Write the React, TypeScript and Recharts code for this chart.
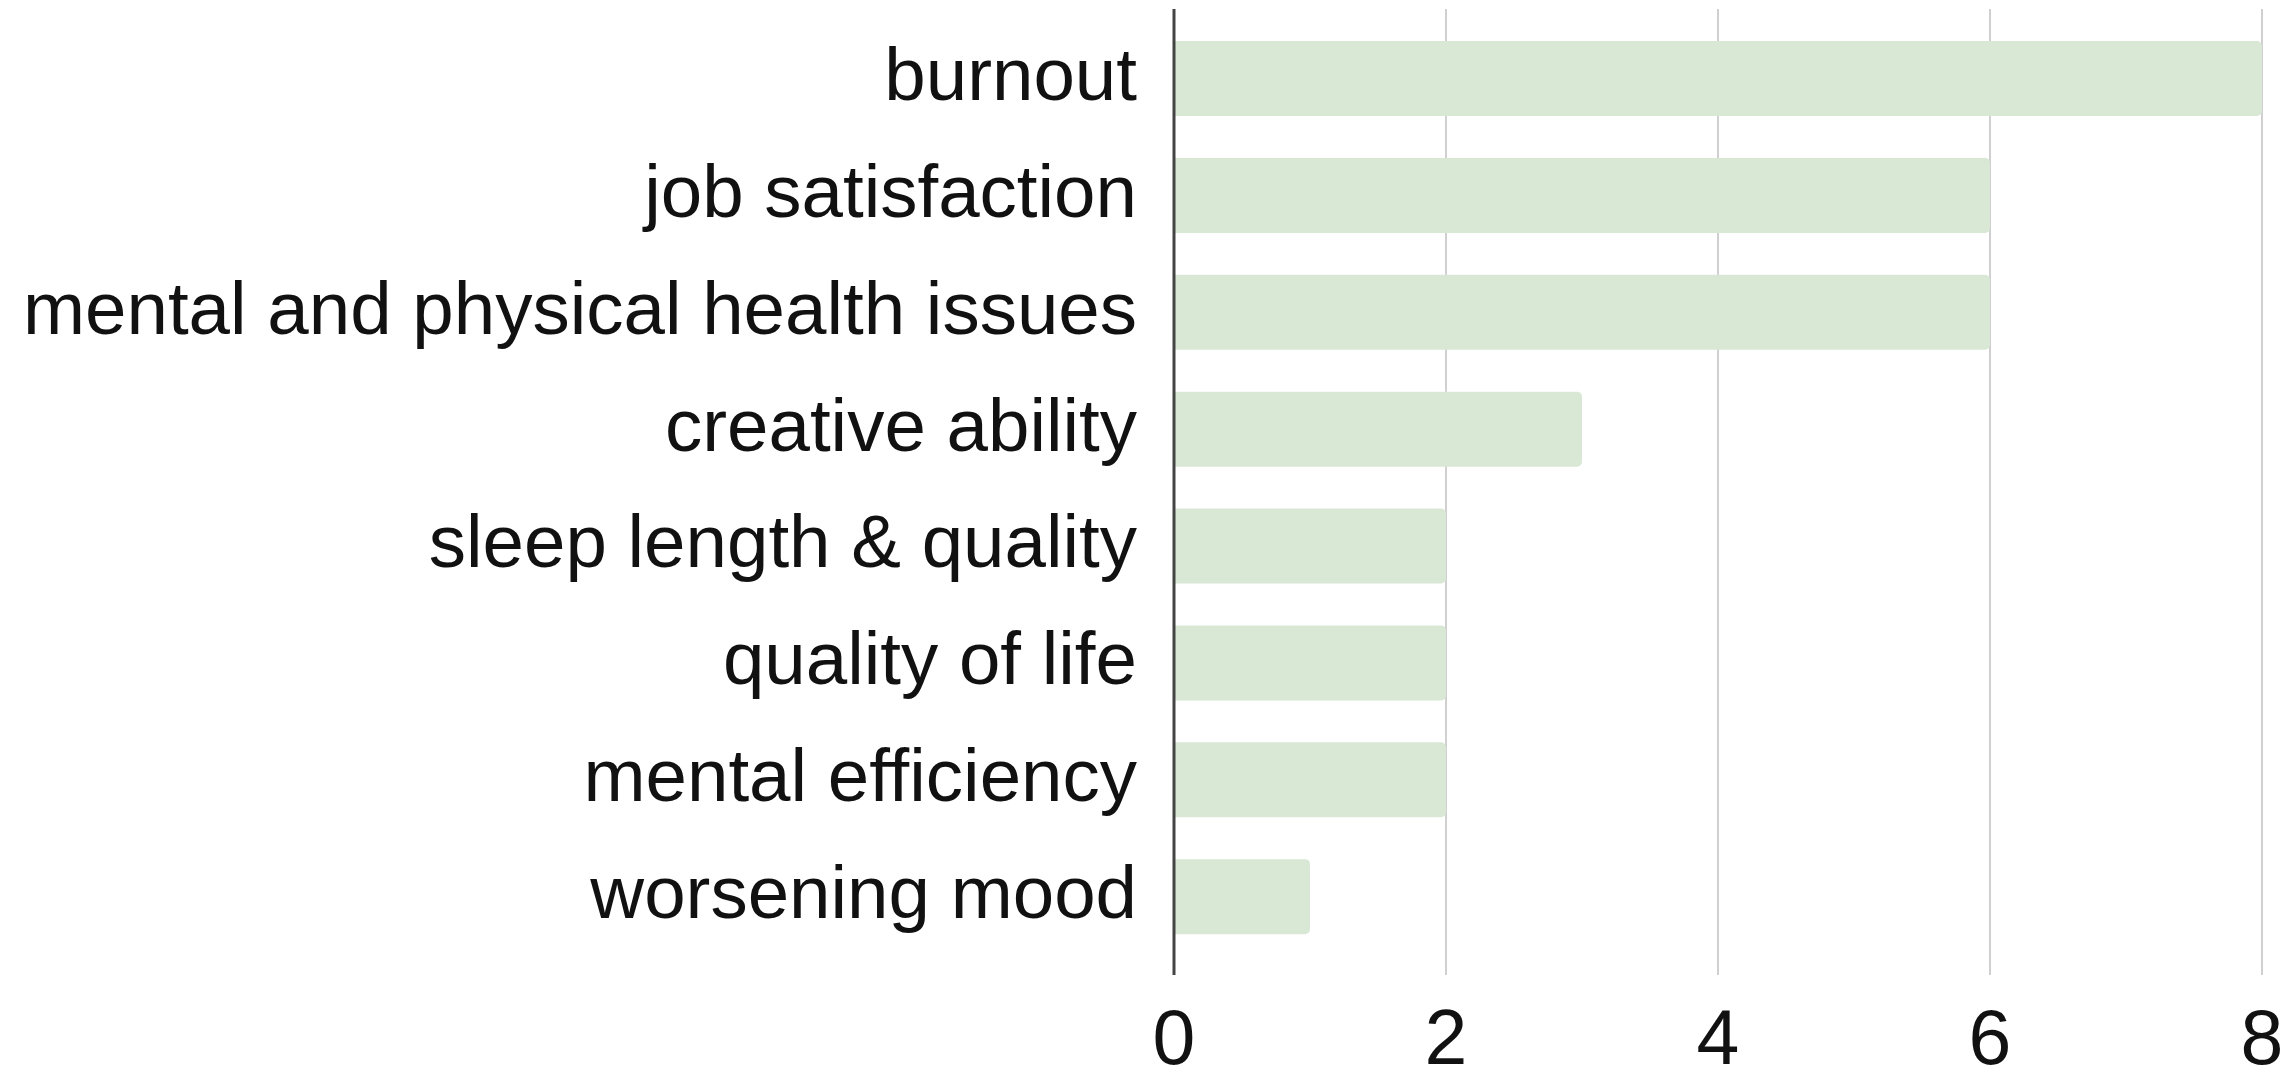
import React from "react";
import { BarChart, Bar, XAxis, YAxis, CartesianGrid } from "recharts";

const categories = [
  "burnout",
  "job satisfaction",
  "mental and physical health issues",
  "creative ability",
  "sleep length & quality",
  "quality of life",
  "mental efficiency",
  "worsening mood",
];
const counts = [8, 6, 6, 3, 2, 2, 2, 1];
const xTicks = [0, 2, 4, 6, 8];

const data = categories.map((name, i) => ({ name, count: counts[i] }));

export default function App() {
  return (
    <div style={{ position: "absolute", left: 0, top: 0, background: "#fff" }}>
      <BarChart
        width={2286}
        height={1081}
        data={data}
        layout="vertical"
        margin={{ top: 9, right: 24, bottom: 0, left: 0 }}
        style={{ fontFamily: "'Liberation Sans', Arial, sans-serif" }}
      >
        <CartesianGrid horizontal={false} stroke="#d0d0d0" strokeWidth={2} />
        <XAxis
          type="number"
          domain={[0, 8]}
          ticks={xTicks}
          axisLine={false}
          tickLine={false}
          height={106}
          tickMargin={28}
          tick={{ fill: "#111", fontSize: 77 }}
        />
        <YAxis
          type="category"
          dataKey="name"
          width={1174}
          tickLine={false}
          tickMargin={31}
          axisLine={{ stroke: "#444", strokeWidth: 3 }}
          padding={{ top: 11, bottom: 20 }}
          tick={{ fill: "#111", fontSize: 74.5, dy: -5 }}
          interval={0}
        />
        <Bar
          dataKey="count"
          fill="#d9e7d5"
          barSize={75}
          radius={[0, 5, 5, 0]}
          isAnimationActive={false}
        />
      </BarChart>
    </div>
  );
}
